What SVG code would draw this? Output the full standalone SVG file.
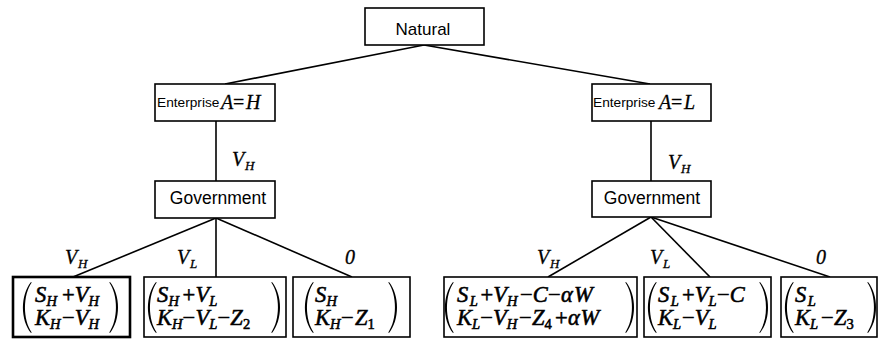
<svg xmlns="http://www.w3.org/2000/svg" xmlns:xlink="http://www.w3.org/1999/xlink" width="879" height="339" viewBox="0 0 879 339">
<style>
.box{fill:#fff;stroke:#000;stroke-width:1.6}
.thick{stroke-width:2.6}
.ln{stroke:#000;stroke-width:1.6;fill:none}
.sans{font-family:"Liberation Sans",Arial,sans-serif;fill:#000}
.m{font-family:"Liberation Serif","Times New Roman",serif;font-style:italic;font-size:22.5px;fill:#000;stroke:#000;stroke-width:0.55}
.lb{font-family:"Liberation Serif","Times New Roman",serif;font-style:italic;font-size:20px;fill:#000;stroke:#000;stroke-width:0.3}
.s{font-size:14.5px}
.ls{font-size:13px}
.up{font-style:normal}
.par{fill:#000}
</style>
<defs>
<path id="lp" d="M8 0 C-2.67 13 -2.67 38 8 51 L8.7 50.4 C-0.2 38 -0.2 13 8.7 0.6 Z"/>
</defs>
<rect width="879" height="339" fill="#fff"/>
<g id="connectors">
<line class="ln" x1="424" y1="45" x2="225" y2="84"/>
<line class="ln" x1="424" y1="45" x2="650" y2="84"/>
<line class="ln" x1="216" y1="121" x2="216" y2="181"/>
<line class="ln" x1="651" y1="121" x2="651" y2="181"/>
<line class="ln" x1="216" y1="218" x2="73" y2="277"/>
<line class="ln" x1="216" y1="218" x2="216" y2="277"/>
<line class="ln" x1="216" y1="218" x2="352" y2="277"/>
<line class="ln" x1="651" y1="217" x2="548" y2="277"/>
<line class="ln" x1="651" y1="217" x2="710" y2="277"/>
<line class="ln" x1="651" y1="217" x2="830" y2="277"/>
<text class="lb" y="166"><tspan x="232">V</tspan><tspan class="ls" x="245" y="170">H</tspan></text>
<text class="lb" y="169"><tspan x="668">V</tspan><tspan class="ls" x="681" y="173">H</tspan></text>
<text class="lb" y="264"><tspan x="65">V</tspan><tspan class="ls" x="78" y="268">H</tspan></text>
<text class="lb" y="264"><tspan x="177">V</tspan><tspan class="ls" x="190" y="268">L</tspan></text>
<text class="lb" x="345" y="264">0</text>
<text class="lb" y="264"><tspan x="537">V</tspan><tspan class="ls" x="550" y="268">H</tspan></text>
<text class="lb" y="264"><tspan x="650">V</tspan><tspan class="ls" x="663" y="268">L</tspan></text>
<text class="lb" x="816" y="264">0</text>
</g>
<g id="natural">
<rect class="box" x="365" y="8" width="119" height="37"/>
<text class="sans" x="423" y="35" font-size="17" text-anchor="middle">Natural</text>
</g>
<g id="enterprise-h">
<rect class="box" x="155" y="84" width="120" height="37"/>
<text class="sans" x="157" y="107" font-size="13.7">Enterprise</text>
<text class="lb" y="109" font-size="21"><tspan x="221">A</tspan><tspan class="up" x="233">=</tspan><tspan x="246">H</tspan></text>
</g>
<g id="enterprise-l">
<rect class="box" x="592" y="84" width="119" height="37"/>
<text class="sans" x="593" y="107" font-size="13.7">Enterprise</text>
<text class="lb" y="109" font-size="21"><tspan x="659">A</tspan><tspan class="up" x="671">=</tspan><tspan x="684">L</tspan></text>
</g>
<g id="government-h">
<rect class="box" x="155" y="181" width="120" height="37"/>
<text class="sans" x="218" y="204" font-size="17.5" text-anchor="middle">Government</text>
</g>
<g id="government-l">
<rect class="box" x="592" y="181" width="119" height="36"/>
<text class="sans" x="652" y="204" font-size="17.5" text-anchor="middle">Government</text>
</g>
<g id="leaf-hh">
<rect class="box thick" x="13" y="277" width="117" height="60"/>
<use href="#lp" class="par" transform="translate(23,282)"/>
<use href="#lp" class="par" transform="translate(118,282) scale(-1,1)"/>
<text class="m" y="302"><tspan x="35">S</tspan><tspan class="s" x="46.6" y="306">H</tspan><tspan class="up" x="62" y="302">+</tspan><tspan x="74.8">V</tspan><tspan class="s" x="88.6" y="306">H</tspan></text>
<text class="m" y="325"><tspan x="35">K</tspan><tspan class="s" x="50" y="329">H</tspan><tspan class="up" x="62" y="325">−</tspan><tspan x="74.8">V</tspan><tspan class="s" x="88.6" y="329">H</tspan></text>
</g>
<g id="leaf-hl">
<rect class="box" x="144" y="277" width="142" height="60"/>
<use href="#lp" class="par" transform="translate(148,282)"/>
<use href="#lp" class="par" transform="translate(280,282) scale(-1,1)"/>
<text class="m" y="302"><tspan x="157">S</tspan><tspan class="s" x="168.6" y="306">H</tspan><tspan class="up" x="182.6" y="302">+</tspan><tspan x="195.5">V</tspan><tspan class="s" x="209.3" y="306">L</tspan></text>
<text class="m" y="325"><tspan x="157">K</tspan><tspan class="s" x="172" y="329">H</tspan><tspan class="up" x="182.6" y="325">−</tspan><tspan x="195.5">V</tspan><tspan class="s" x="209.3" y="329">L</tspan><tspan class="up" x="217.5" y="325">−</tspan><tspan x="230.3">Z</tspan><tspan class="s up" x="242.9" y="329">2</tspan></text>
</g>
<g id="leaf-h0">
<rect class="box" x="293" y="277" width="117" height="60"/>
<use href="#lp" class="par" transform="translate(305,282)"/>
<use href="#lp" class="par" transform="translate(397,282) scale(-1,1)"/>
<text class="m" y="302"><tspan x="315">S</tspan><tspan class="s" x="326.6" y="306">H</tspan></text>
<text class="m" y="325"><tspan x="315">K</tspan><tspan class="s" x="330" y="329">H</tspan><tspan class="up" x="341" y="325">−</tspan><tspan x="355">Z</tspan><tspan class="s up" x="367.6" y="329">1</tspan></text>
</g>
<g id="leaf-lh">
<rect class="box" x="444" y="277" width="193" height="60"/>
<use href="#lp" class="par" transform="translate(445,282)"/>
<use href="#lp" class="par" transform="translate(634,282) scale(-1,1)"/>
<text class="m" y="302"><tspan x="457">S</tspan><tspan class="s" x="469.8" y="306">L</tspan><tspan class="up" x="480.5" y="302">+</tspan><tspan x="493.2">V</tspan><tspan class="s" x="507" y="306">H</tspan><tspan class="up" x="520" y="302">−</tspan><tspan x="532.8">C</tspan><tspan class="up" x="548">−</tspan><tspan x="561">α</tspan><tspan x="574">W</tspan></text>
<text class="m" y="325"><tspan x="457">K</tspan><tspan class="s" x="472" y="329">L</tspan><tspan class="up" x="480.2" y="325">−</tspan><tspan x="493">V</tspan><tspan class="s" x="506.8" y="329">H</tspan><tspan class="up" x="519" y="325">−</tspan><tspan x="532">Z</tspan><tspan class="s up" x="544.6" y="329">4</tspan><tspan class="up" x="555" y="325">+</tspan><tspan x="568">α</tspan><tspan x="580.5">W</tspan></text>
</g>
<g id="leaf-ll">
<rect class="box" x="644" y="277" width="127" height="60"/>
<use href="#lp" class="par" transform="translate(648,282)"/>
<use href="#lp" class="par" transform="translate(768,282) scale(-1,1)"/>
<text class="m" y="302"><tspan x="658">S</tspan><tspan class="s" x="670.8" y="306">L</tspan><tspan class="up" x="682" y="302">+</tspan><tspan x="694.8">V</tspan><tspan class="s" x="708.6" y="306">L</tspan><tspan class="up" x="717" y="302">−</tspan><tspan x="729.8">C</tspan></text>
<text class="m" y="325"><tspan x="658">K</tspan><tspan class="s" x="673" y="329">L</tspan><tspan class="up" x="682" y="325">−</tspan><tspan x="694.8">V</tspan><tspan class="s" x="708.6" y="329">L</tspan></text>
</g>
<g id="leaf-l0">
<rect class="box" x="781" y="277" width="96" height="60"/>
<use href="#lp" class="par" transform="translate(785,282)"/>
<use href="#lp" class="par" transform="translate(876,282) scale(-1,1)"/>
<text class="m" y="302"><tspan x="795">S</tspan><tspan class="s" x="807.8" y="306">L</tspan></text>
<text class="m" y="325"><tspan x="795">K</tspan><tspan class="s" x="810" y="329">L</tspan><tspan class="up" x="821" y="325">−</tspan><tspan x="834">Z</tspan><tspan class="s up" x="846.6" y="329">3</tspan></text>
</g>
</svg>
